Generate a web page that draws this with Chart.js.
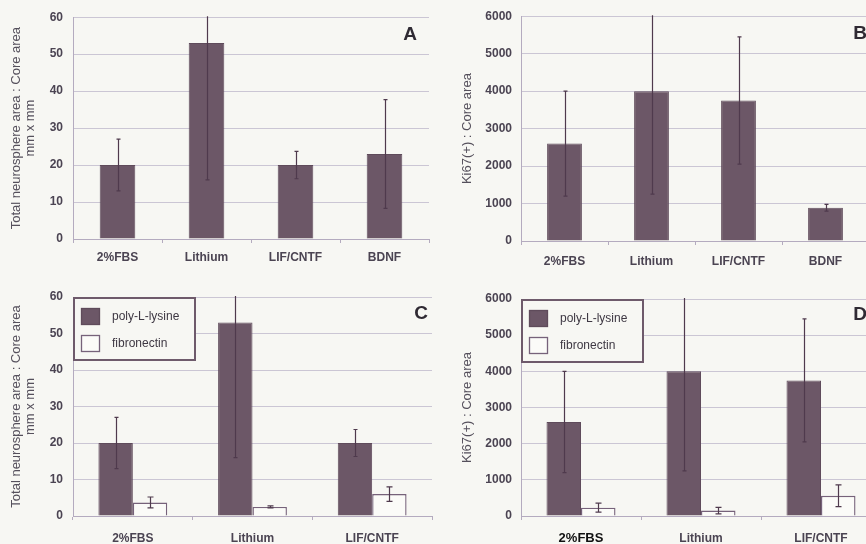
<!DOCTYPE html>
<html>
<head>
<meta charset="utf-8">
<script src="https://cdn.jsdelivr.net/npm/chart.js@4"></script>
<style>
  html, body { margin: 0; padding: 0; width: 866px; height: 544px; overflow: hidden; background: #f7f7f3; }
  canvas { position: absolute; }
</style>
</head>
<body>
<canvas id="chart-a" width="433" height="270" style="left:0;top:0"></canvas>
<canvas id="chart-b" width="440" height="270" style="left:433px;top:0"></canvas>
<canvas id="chart-c" width="433" height="272" style="left:0;top:272px"></canvas>
<canvas id="chart-d" width="452" height="272" style="left:433px;top:272px"></canvas>
<script>
'use strict';

// values
const singleCategories = ['2%FBS', 'Lithium', 'LIF/CNTF', 'BDNF'];
const pairCategories = ['2%FBS', 'Lithium', 'LIF/CNTF'];
const seriesNames = ['poly-L-lysine', 'fibronectin'];

const areaMean = [20, 53, 20, 23];
const areaErr = [7, 37, 3.7, 14.7];
const ki67Mean = [2600, 4000, 3750, 890];
const ki67Err = [1400, 2750, 1700, 90];

const areaFibroMean = [3.7, 2.5, 6];
const areaFibroErr = [1.5, 0.3, 2];
const ki67FibroMean = [230, 150, 560];
const ki67FibroErr = [125, 90, 300];

const areaTicks = { max: 60, step: 10 };
const ki67Ticks = { max: 6000, step: 1000 };
const areaTitle = ['Total neurosphere area : Core area', 'mm x mm'];
const ki67Title = 'Ki67(+) : Core area';

const FONT = '"Liberation Sans", Arial, sans-serif';
const BG = '#f7f7f3';
const BAR = '#6c5767';
const BAR_EDGE = '#5f4b5b';
const ERR = '#4f3a4d';
const GRID = '#cbc6d4';
const AXIS = '#b4abbf';
const TEXT = '#4b4452';

const errorBarPlugin = {
  id: 'errorBars',
  afterDatasetsDraw(chart) {
    const { ctx, chartArea } = chart;
    const y = chart.scales.y;
    ctx.save();
    ctx.beginPath();
    ctx.rect(chartArea.left, chartArea.top - 1, chartArea.right - chartArea.left, chartArea.bottom - chartArea.top + 1);
    ctx.clip();
    ctx.strokeStyle = ERR;
    ctx.lineWidth = 1.2;
    chart.data.datasets.forEach((ds, di) => {
      if (!ds.errors) return;
      const cap = ds.errorCap ?? 2;
      chart.getDatasetMeta(di).data.forEach((bar, i) => {
        const v = ds.data[i], e = ds.errors[i];
        const top = y.getPixelForValue(v + e);
        const bottom = y.getPixelForValue(v - e);
        const x = Math.round(bar.x) + 0.5;
        ctx.beginPath();
        ctx.moveTo(x, top); ctx.lineTo(x, bottom);
        ctx.moveTo(x - cap, top); ctx.lineTo(x + cap, top);
        ctx.moveTo(x - cap, bottom); ctx.lineTo(x + cap, bottom);
        ctx.stroke();
      });
    });
    ctx.restore();
  },
};

const boxLegendPlugin = {
  id: 'boxLegend',
  afterDraw(chart, _args, options) {
    if (!options?.show) return;
    const { ctx, chartArea } = chart;
    const x0 = chartArea.left, y0 = chartArea.top;
    ctx.save();
    ctx.fillStyle = BG;
    ctx.fillRect(x0, y0, 123, 64);
    ctx.strokeStyle = '#6e5a6b';
    ctx.lineWidth = 2;
    ctx.strokeRect(x0 + 1, y0 + 1, 121, 62);
    ctx.font = `12px ${FONT}`;
    ctx.textBaseline = 'middle';
    chart.data.datasets.forEach((ds, i) => {
      const sy = y0 + 11 + i * 27;
      ctx.fillStyle = ds.backgroundColor;
      ctx.fillRect(x0 + 8.5, sy, 18, 16);
      ctx.strokeStyle = ds.borderColor;
      ctx.lineWidth = 1.3;
      ctx.strokeRect(x0 + 8.5, sy + 0.5, 18, 16);
      ctx.fillStyle = '#3e3843';
      ctx.fillText(ds.label, x0 + 39, sy + 8.5);
    });
    ctx.restore();
  },
};

const panelLetterPlugin = {
  id: 'panelLetter',
  afterDraw(chart, _args, options) {
    if (!options?.text) return;
    const { ctx, chartArea } = chart;
    ctx.save();
    ctx.font = `bold 19px ${FONT}`;
    ctx.fillStyle = '#2f2a33';
    ctx.textAlign = 'center';
    ctx.textBaseline = 'middle';
    ctx.fillText(options.text, chartArea.right - options.dx, chartArea.top + options.dy);
    ctx.restore();
  },
};

Chart.register(errorBarPlugin, boxLegendPlugin, panelLetterPlugin);

function darkSeries(data, errors) {
  return {
    label: seriesNames[0], data, errors, errorCap: 2,
    backgroundColor: BAR, borderColor: BAR_EDGE, borderWidth: 1,
  };
}

function lightSeries(data, errors) {
  return {
    label: seriesNames[1], data, errors, errorCap: 3,
    backgroundColor: '#fbfbf8', borderColor: '#76627a', borderWidth: 1.4,
  };
}

function createChart(canvasId, spec) {
  const canvas = document.getElementById(canvasId);
  return new Chart(canvas.getContext('2d'), {
    type: 'bar',
    data: { labels: spec.labels, datasets: spec.datasets },
    options: {
      responsive: false,
      animation: false,
      devicePixelRatio: 1,
      layout: { padding: spec.padding },
      datasets: { bar: { barPercentage: spec.barPct, categoryPercentage: spec.catPct } },
      plugins: {
        legend: { display: false },
        tooltip: { enabled: false },
        boxLegend: { show: spec.legend },
        panelLetter: spec.letter,
      },
      scales: {
        x: {
          afterFit: scale => { scale.height = spec.xHeight; },
          grid: { drawOnChartArea: false, drawTicks: true, tickLength: 4, color: AXIS },
          border: { color: AXIS },
          ticks: {
            padding: spec.xPad,
            color: spec.xColor || TEXT,
            font: spec.xFont || { family: FONT, size: 12, weight: 'bold' },
            maxRotation: 0,
          },
        },
        y: {
          min: 0,
          max: spec.ticks.max,
          afterFit: scale => { scale.width = spec.yWidth; },
          grid: { color: GRID, drawTicks: false },
          border: { color: AXIS },
          ticks: {
            stepSize: spec.ticks.step,
            padding: spec.yPad,
            color: TEXT,
            font: { family: FONT, size: 12, weight: 'bold' },
            callback: value => String(value),
          },
          title: {
            display: true,
            text: spec.title,
            color: '#55505c',
            padding: { top: 0, bottom: 0 },
            font: { family: FONT, size: 13, lineHeight: 1.08 },
          },
        },
      },
    },
  });
}

createChart('chart-a', {
  labels: singleCategories,
  datasets: [darkSeries(areaMean, areaErr)],
  ticks: areaTicks, title: areaTitle,
  padding: { left: 9, top: 17, right: 4, bottom: 0 },
  yWidth: 64, xHeight: 31, xPad: 7, yPad: 10,
  barPct: 0.4, catPct: 1, legend: false,
  letter: { text: 'A', dx: 19, dy: 18 },
});

createChart('chart-b', {
  labels: singleCategories,
  datasets: [darkSeries(ki67Mean, ki67Err)],
  ticks: ki67Ticks, title: ki67Title,
  padding: { left: 27, top: 16, right: 4, bottom: 0 },
  yWidth: 61, xHeight: 29, xPad: 9, yPad: 9,
  barPct: 0.4, catPct: 1, legend: false,
  letter: { text: 'B', dx: 9, dy: 18 },
});

createChart('chart-c', {
  labels: pairCategories,
  datasets: [
    darkSeries(areaMean.slice(0, 3), areaErr.slice(0, 3)),
    lightSeries(areaFibroMean, areaFibroErr),
  ],
  ticks: areaTicks, title: areaTitle,
  padding: { left: 9, top: 25, right: 1, bottom: 0 },
  yWidth: 64, xHeight: 28, xPad: 11, yPad: 10,
  barPct: 1, catPct: 0.575, legend: true,
  letter: { text: 'C', dx: 11, dy: 17 },
});

createChart('chart-d', {
  labels: pairCategories,
  datasets: [
    darkSeries(ki67Mean.slice(0, 3), ki67Err.slice(0, 3)),
    lightSeries(ki67FibroMean, ki67FibroErr),
  ],
  ticks: ki67Ticks, title: ki67Title,
  padding: { left: 27, top: 27, right: 4, bottom: 0 },
  yWidth: 61, xHeight: 28, xPad: 11, yPad: 9,
  barPct: 1, catPct: 0.575, legend: true,
  xColor: ctx => (ctx.index === 0 ? '#111111' : TEXT),
  xFont: ctx => ({ family: FONT, size: ctx.index === 0 ? 13 : 12, weight: 'bold' }),
  letter: { text: 'D', dx: 21, dy: 16 },
});
</script>
</body>
</html>
